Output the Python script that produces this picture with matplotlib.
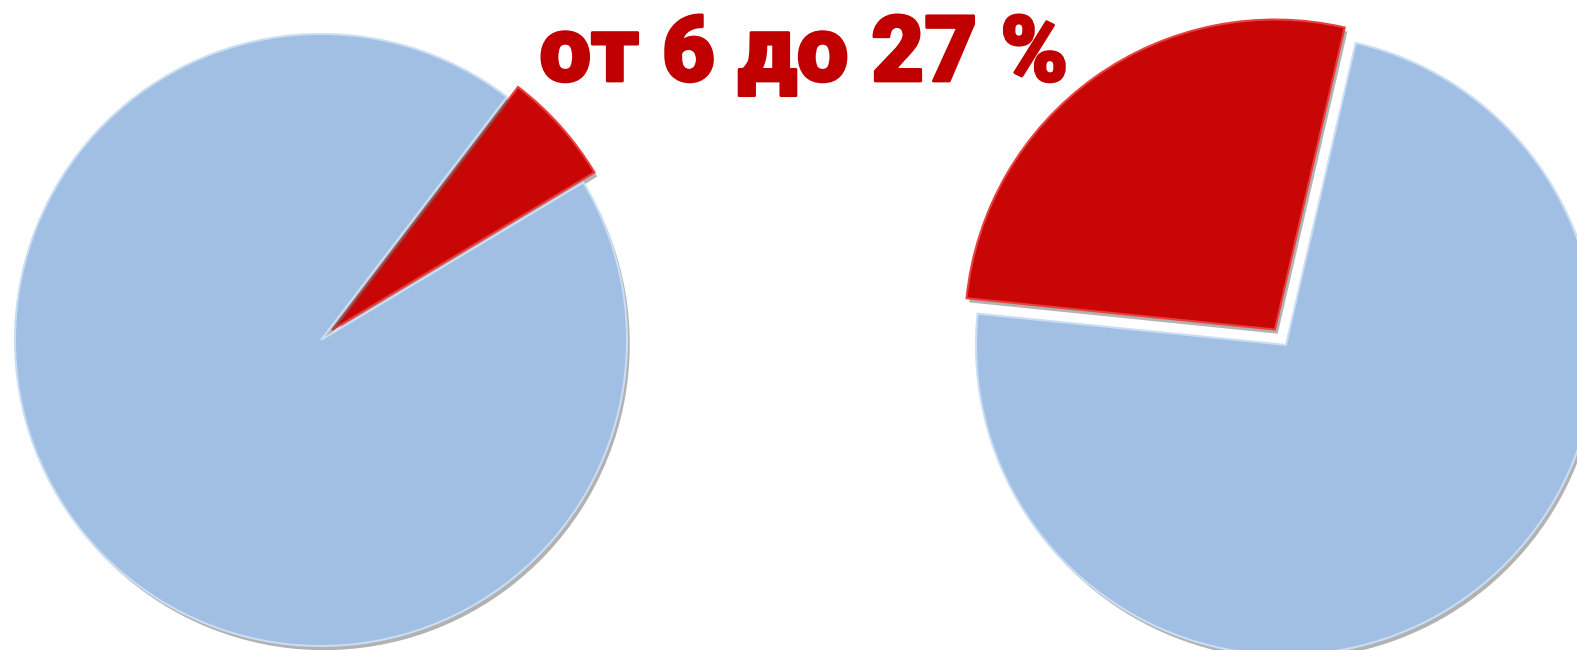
import matplotlib
matplotlib.use("Agg")
import matplotlib.pyplot as plt
import matplotlib.patheffects as pe

# Shares shown in the two pies (percent)
labels = ["share", "rest"]
low_share = [6, 94]
high_share = [27, 73]
title_text = "от 6 до 27 %"

RED = "#C80606"
BLUE = "#A1BEE3"
TEXT_RED = "#C00000"

W, H = 1577, 650
fig = plt.figure(figsize=(W / 100, H / 100), dpi=100)
ax = fig.add_axes([0, 0, 1, 1])

shadow = [pe.SimplePatchShadow(offset=(2, -3), shadow_rgbFace="#555555", alpha=0.45),
          pe.Normal()]


def draw_pie(values, center, radius, start, explode_px):
    wedges, _ = ax.pie(values, colors=[RED, BLUE], startangle=start,
                       counterclock=True, center=center, radius=radius,
                       explode=[explode_px, 0], frame=True,
                       wedgeprops=dict(linewidth=1.5))
    edge_cols = ["#E84040", "#C9DDF4"]
    for w, ec in zip(wedges, edge_cols):
        w.set_edgecolor(ec)
        w.set_path_effects(shadow)
    return wedges


draw_pie(low_share, (321, H - 340), 306, 31, 15)
draw_pie(high_share, (1286, H - 345), 310, 77, 19)

ax.text(804, H - 81, title_text, ha="center", va="baseline",
        fontsize=66, fontweight=900, family=["Roboto", "DejaVu Sans"],
        color=TEXT_RED,
        path_effects=[pe.withStroke(linewidth=2, foreground=TEXT_RED)])

ax.set_xlim(0, W)
ax.set_ylim(0, H)
ax.set_aspect("equal")
ax.axis("off")

fig.savefig("out.png", dpi=100)
